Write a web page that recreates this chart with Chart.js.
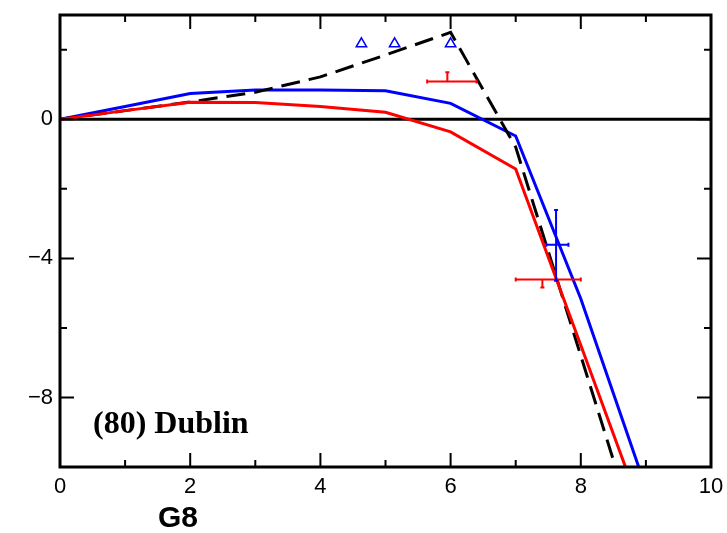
<!DOCTYPE html>
<html>
<head>
<meta charset="utf-8">
<script src="https://cdn.jsdelivr.net/npm/chart.js@4/dist/chart.umd.min.js"></script>
<style>
  html, body { margin: 0; padding: 0; background: #fff; }
  #wrap { width: 727px; height: 533px; }
</style>
</head>
<body>
<div id="wrap"><canvas id="chart" width="727" height="533"></canvas></div>
<script>
// curve data (G8 axis)
const xs = [0, 1, 2, 3, 4, 5, 6, 7, 8, 9];
const blueY = [0, 0.37, 0.74, 0.84, 0.84, 0.82, 0.46, -0.48, -5.16, -10.6];
const redY = [0, 0.25, 0.49, 0.48, 0.37, 0.2, -0.36, -1.43, -6.5, -11.6];
const dashY = [0, 0.25, 0.5, 0.78, 1.22, 1.85, 2.5, -0.8, -6.8, -12.8];

// open triangles
const triX = [4.63, 5.14, 6.0];
const triY = [2.17, 2.17, 2.17];

// error bar points
const redErrX = [5.95, 7.41];
const redErrY = [1.09, -4.61];
const redErrXLo = [5.64, 7.0];
const redErrXHi = [6.40, 8.0];
const redErrYLo = [1.09, -4.84];
const redErrYHi = [1.35, -4.61];

const blueErrX = [7.62];
const blueErrY = [-3.61];
const blueErrXLo = [7.47];
const blueErrXHi = [7.81];
const blueErrYLo = [-4.64];
const blueErrYHi = [-2.61];

// ticks
const xMajor = [0, 2, 4, 6, 8, 10];
const xMinor = [1, 3, 5, 7, 9];
const yMajor = [0, -4, -8];
const yMinor = [2, -2, -6];

const pts = (xv, yv) => xv.map((x, i) => ({ x: x, y: yv[i] }));

const noPad = s => {
  s.paddingTop = 0; s.paddingBottom = 0;
  s.paddingLeft = 0; s.paddingRight = 0;
};

const framePlugin = {
  id: 'frame',
  beforeDatasetsDraw(chart) {
    const { ctx, chartArea: a, scales: { x, y } } = chart;
    ctx.save();
    ctx.strokeStyle = '#000';
    ctx.lineWidth = 3;
    const y0 = y.getPixelForValue(0);
    ctx.beginPath();
    ctx.moveTo(a.left, y0);
    ctx.lineTo(a.right, y0);
    ctx.stroke();
    ctx.restore();
  },
  afterDatasetsDraw(chart) {
    const { ctx, chartArea: a, scales: { x, y } } = chart;
    ctx.save();

    // error bars
    const drawErr = (color, ex, ey, xlo, xhi, ylo, yhi) => {
      ctx.strokeStyle = color;
      ctx.lineWidth = 2;
      ex.forEach((v, i) => {
        const px = x.getPixelForValue(v);
        const py = y.getPixelForValue(ey[i]);
        const l = x.getPixelForValue(xlo[i]);
        const r = x.getPixelForValue(xhi[i]);
        const t = y.getPixelForValue(yhi[i]);
        const b = y.getPixelForValue(ylo[i]);
        ctx.beginPath();
        ctx.moveTo(l, py); ctx.lineTo(r, py);
        ctx.moveTo(px, t); ctx.lineTo(px, b);
        ctx.moveTo(l, py - 2); ctx.lineTo(l, py + 2);
        ctx.moveTo(r, py - 2); ctx.lineTo(r, py + 2);
        if (t < py - 1) { ctx.moveTo(px - 2, t); ctx.lineTo(px + 2, t); }
        if (b > py + 1) { ctx.moveTo(px - 2, b); ctx.lineTo(px + 2, b); }
        ctx.stroke();
      });
    };
    drawErr('#ff0000', redErrX, redErrY, redErrXLo, redErrXHi, redErrYLo, redErrYHi);
    drawErr('#0000ff', blueErrX, blueErrY, blueErrXLo, blueErrXHi, blueErrYLo, blueErrYHi);

    // inward ticks
    ctx.strokeStyle = '#000';
    ctx.lineWidth = 2;
    ctx.beginPath();
    const xt = (vals, len) => vals.forEach(v => {
      const px = x.getPixelForValue(v);
      ctx.moveTo(px, a.bottom); ctx.lineTo(px, a.bottom - len);
      ctx.moveTo(px, a.top); ctx.lineTo(px, a.top + len);
    });
    const yt = (vals, len) => vals.forEach(v => {
      const py = y.getPixelForValue(v);
      ctx.moveTo(a.left, py); ctx.lineTo(a.left + len, py);
      ctx.moveTo(a.right, py); ctx.lineTo(a.right - len, py);
    });
    xt(xMajor, 14); xt(xMinor, 7);
    yt(yMajor, 14); yt(yMinor, 7);
    ctx.stroke();

    // frame
    ctx.lineWidth = 3;
    ctx.strokeRect(a.left, a.top, a.right - a.left, a.bottom - a.top);

    // labels
    ctx.fillStyle = '#000';
    ctx.textBaseline = 'alphabetic';
    ctx.textAlign = 'left';
    ctx.font = 'bold 32px "Liberation Serif", "Times New Roman", serif';
    ctx.fillText('(80) Dublin', a.left + 33, a.bottom - 34);
    ctx.textAlign = 'center';
    ctx.font = 'bold 30px "Liberation Sans", Arial, sans-serif';
    ctx.fillText('G8', a.left + 118, a.bottom + 60);
    ctx.restore();
  }
};

new Chart(document.getElementById('chart'), {
  type: 'line',
  data: {
    datasets: [
      {
        data: pts(xs, redY),
        borderColor: '#ff0000',
        borderWidth: 3,
        pointRadius: 0,
        tension: 0
      },
      {
        data: pts(xs, dashY),
        borderColor: '#000000',
        borderWidth: 3,
        borderDash: [19, 9],
        pointRadius: 0,
        tension: 0
      },
      {
        data: pts(xs, blueY),
        borderColor: '#0000ff',
        borderWidth: 3,
        pointRadius: 0,
        tension: 0
      },
      {
        type: 'scatter',
        data: pts(triX, triY),
        showLine: false,
        pointStyle: 'triangle',
        pointRadius: 6,
        borderColor: '#0000ff',
        backgroundColor: 'rgba(0,0,0,0)',
        borderWidth: 1.5
      }
    ]
  },
  options: {
    responsive: false,
    animation: false,
    events: [],
    layout: { padding: { top: 15, right: 16, left: 0, bottom: 0 } },
    plugins: { legend: { display: false }, tooltip: { enabled: false } },
    scales: {
      x: {
        type: 'linear',
        min: 0,
        max: 10,
        grid: { display: false, drawTicks: false },
        border: { display: false },
        afterFit: s => { s.height = 66; noPad(s); },
        afterBuildTicks: s => { s.ticks = xMajor.map(v => ({ value: v })); },
        ticks: {
          padding: 7,
          color: '#000',
          maxRotation: 0,
          font: { family: '"Liberation Sans", Arial, sans-serif', size: 22 },
          callback: v => String(v)
        }
      },
      y: {
        type: 'linear',
        min: -10,
        max: 3,
        grid: { display: false, drawTicks: false },
        border: { display: false },
        afterFit: s => { s.width = 60; noPad(s); },
        afterBuildTicks: s => { s.ticks = yMajor.map(v => ({ value: v })); },
        ticks: {
          padding: 7,
          color: '#000',
          font: { family: '"Liberation Sans", Arial, sans-serif', size: 22 },
          callback: v => String(v).replace('-', '\u2212')
        }
      }
    }
  },
  plugins: [framePlugin]
});
</script>
</body>
</html>
